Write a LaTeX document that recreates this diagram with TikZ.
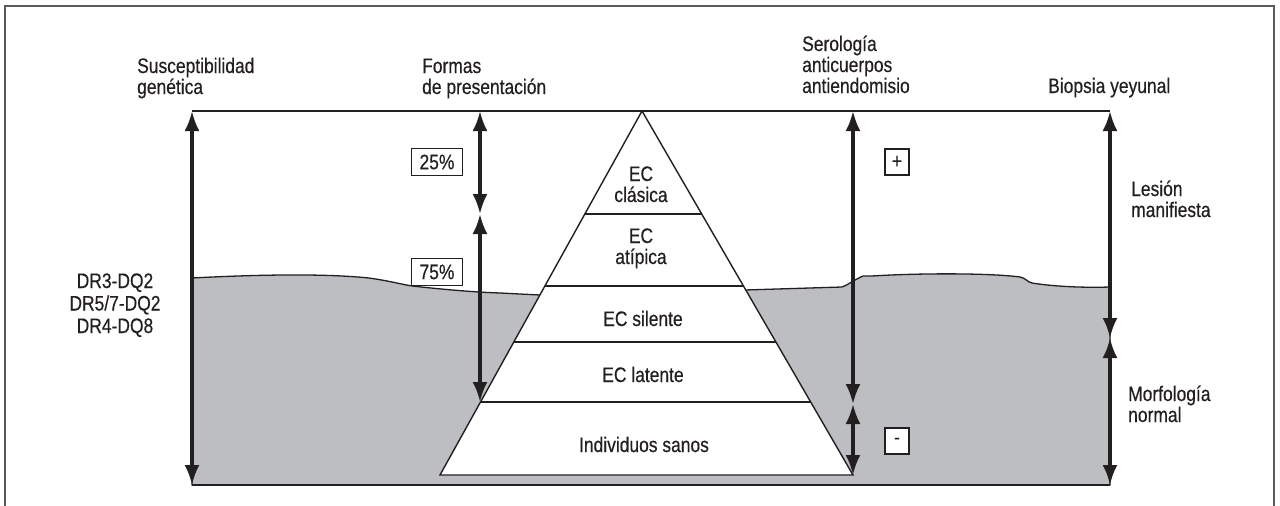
\documentclass[tikz,border=0pt]{standalone}
\usepackage{fontspec}
\setmainfont{Liberation Sans}[FakeStretch=0.83,FakeBold=0.4]
\usetikzlibrary{arrows.meta,calc}
\definecolor{shade}{RGB}{189,190,194}
\definecolor{ink}{RGB}{35,31,32}
\definecolor{framegray}{RGB}{90,90,90}
\begin{document}
\begin{tikzpicture}[x=1pt,y=-1pt,
  txt/.style={font=\fontsize{21}{21}\selectfont, text=ink, inner sep=0pt},
  lbl/.style={txt, align=left, anchor=base west},
  clbl/.style={txt, align=center, anchor=base},
  pctbox/.style={txt, draw=ink, line width=1.2pt, fill=white, minimum width=51pt, minimum height=27pt},
  signbox/.style={txt, draw=ink, line width=1.2pt, fill=white, minimum width=24pt, minimum height=26pt},
  rule/.style={draw=ink, line width=1.5pt},
  dbl/.style={draw=ink, line width=3.2pt, {Latex[length=20pt,width=15pt]}-{Latex[length=20pt,width=15pt]}}]
\useasboundingbox (0,0) rectangle (1280,506);
% outer frame
\draw[framegray, line width=1.5pt] (5,506) -- (5,6) -- (1274,6) -- (1274,506);
% coordinates
\coordinate (gT) at (192,111);
\coordinate (gB) at (192,485);
\coordinate (fT) at (480,111);
\coordinate (fM) at (480,214);
\coordinate (fB) at (480,402);
\coordinate (sT) at (853,111);
\coordinate (sM) at (853,404);
\coordinate (sB) at (853,475);
\coordinate (bT) at (1110,111);
\coordinate (bM) at (1110,338);
\coordinate (bB) at (1110,485);
\coordinate (apex) at (642,111);
\coordinate (bl) at (440,475);
\coordinate (br) at (853,475);
% grey region
\filldraw[fill=shade, draw=ink, line width=1.3pt]
  (192,278) .. controls (250,275) and (320,273) .. (369,278)
  .. controls (390,281) and (400,284) .. (412,286)
  .. controls (440,289) and (470,292) .. (500,293)
  -- (540,295) -- (745,290) -- (842,287)
  .. controls (848,285) and (852,281) .. (863,276)
  -- (872,276) .. controls (920,273) and (990,273) .. (1020,277)
  .. controls (1026,278) and (1027,282) .. (1032,283)
  .. controls (1050,286) and (1080,288) .. (1110,287)
  -- (bB) -- (gB) -- cycle;
% frame lines
\draw[rule] (gT) -- (bT);
\draw[rule] (gB) -- (bB);
% pyramid
\filldraw[fill=white, draw=ink, line width=1.4pt] (apex) -- (bl) -- (br) -- cycle;
\foreach \t in {0.283,0.481,0.635,0.799}
  \draw[ink, line width=1.4pt] ($(apex)!\t!(bl)$) -- ($(apex)!\t!(br)$);
% pyramid labels
\node[clbl] (clasica) at (641,202) {EC\\clásica};
\node[clbl] (atipica) at (641,264) {EC\\atípica};
\node[clbl] (silente) at (643,326) {EC silente};
\node[clbl] (latente) at (643,382) {EC latente};
\node[clbl] (sanos) at (644,452) {Individuos sanos};
% arrows
\draw[dbl] (gT) -- (gB);
\draw[dbl] (fT) -- (fM);
\draw[dbl] (fM) -- (fB);
\draw[dbl] (sT) -- (sM);
\draw[dbl] (sM) -- (sB);
\draw[dbl] (bT) -- (bM);
\draw[dbl] (bM) -- (bB);
% headings
\node[lbl] (susc) at (137,94) {Susceptibilidad\\genética};
\node[lbl] (formas) at (422,94) {Formas\\de presentación};
\node[lbl] (sero) at (802,93) {Serología\\anticuerpos\\antiendomisio};
\node[lbl] (biop) at (1048,93) {Biopsia yeyunal};
\node[lbl] (lesion) at (1131,217) {Lesión\\manifiesta};
\node[lbl] (morfo) at (1128,422) {Morfología\\normal};
\node[clbl, font=\fontsize{21}{22.5}\selectfont] (dr) at (115,333) {DR3-DQ2\\DR5/7-DQ2\\DR4-DQ8};
% boxes
\node[pctbox] (p25) at (437,162) {25\%};
\node[pctbox] (p75) at (437,272) {75\%};
\node[signbox] (plus) at (897,162) {+};
\node[signbox] (minus) at (897,441) {-};
\end{tikzpicture}
\end{document}
